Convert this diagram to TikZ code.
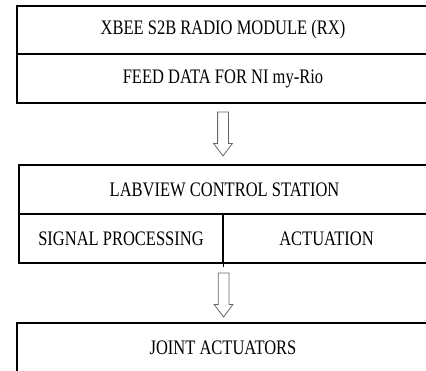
\documentclass[tikz,border=0pt]{standalone}
\usepackage{fontspec}
\setmainfont{Liberation Serif}
\usepackage{tikz}
\usetikzlibrary{shapes, arrows.meta, positioning}
\newcommand{\tall}[1]{\scalebox{1}[1.25]{#1}}
\tikzset{
  block/.style={draw, rectangle, line width=1.1pt, minimum height=49pt, inner sep=0pt, font=\fontsize{16.5}{19}\selectfont},
  flow/.style={draw=gray!80!black, line width=0.8pt, single arrow, shape border rotate=270, inner sep=5pt,
    minimum height=44pt, minimum width=18pt, single arrow head extend=4pt, single arrow tip angle=74}
}

\begin{document}
\begin{tikzpicture}[x=1pt, y=1pt]
  \useasboundingbox (0,0) rectangle (426,-371);
  \clip (0,0) rectangle (426,-371);
  % receiver
  \node[block, minimum width=412pt, minimum height=48pt] (xbee) at (223,-30) {\tall{XBEE S2B RADIO MODULE (RX)}};
  \node[block, minimum width=412pt] (feed) at (223,-78.5) {\tall{FEED DATA FOR NI my-Rio}};
  \node[flow, below=8pt of feed] (arr1) {};
  % control station
  \node[block, minimum width=411pt] (labview) at (224.5,-189.5) {\tall{LABVIEW CONTROL STATION}};
  \node[block, minimum width=204pt] (sigproc) at (121,-238.5) {\tall{SIGNAL PROCESSING}};
  \node[block, minimum width=207pt] (actuation) at (326.5,-238.5) {\tall{ACTUATION}};
  \draw[line width=1.1pt] (sigproc.north east) -- ([yshift=-3pt]sigproc.south east);
  \node[flow, below=9pt of sigproc.south east] (arr2) {};
  % actuators
  \node[block, minimum width=412pt] (joint) at (223,-347.5) {\tall{JOINT ACTUATORS}};
\end{tikzpicture}
\end{document}
